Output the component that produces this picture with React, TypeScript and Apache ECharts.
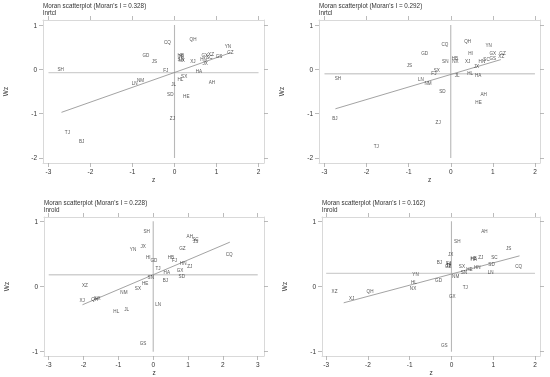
import React, { useEffect, useRef } from "react";
import * as echarts from "echarts";

// Panel 1: lnrtcl (Moran's I = 0.328)
const p1Names = ["SH","TJ","BJ","CQ","QH","GD","JS","FJ","HB","HI","SN","NX","XJ","GX","XZ","HN","SC","GS","GZ","YN","JX","HA","SX","HL","JL","AH","SD","HE","ZJ","NM","LN"];
const p1Z =  [-2.71,-2.55,-2.21,-0.17,0.44,-0.68,-0.48,-0.21,0.15,0.16,0.15,0.17,0.44,0.72,0.87,0.69,0.83,1.06,1.33,1.27,0.73,0.58,0.23,0.14,-0.02,0.89,-0.10,0.28,-0.05,-0.81,-0.95];
const p1Wz = [-0.01,-1.42,-1.62,0.61,0.68,0.32,0.17,-0.02,0.31,0.29,0.22,0.21,0.17,0.32,0.34,0.23,0.26,0.29,0.37,0.51,0.14,-0.05,-0.17,-0.23,-0.35,-0.29,-0.57,-0.61,-1.10,-0.26,-0.32];
const p1Fit = [[-2.69,-0.97],[1.32,0.37]];
const p1Mean = -0.075;

// Panel 2: lnrtcl (Moran's I = 0.292)
const p2Names = ["SH","BJ","TJ","JS","GD","CQ","QH","YN","HI","GX","GZ","HB","SN","NX","XJ","GS","SC","HN","XZ","JX","SX","FJ","JL","HL","HA","LN","NM","SD","AH","HE","ZJ"];
const p2Z =  [-2.68,-2.75,-1.77,-0.98,-0.62,-0.14,0.40,0.90,0.47,1.00,1.23,0.10,-0.13,0.11,0.40,1.00,0.85,0.74,1.20,0.61,-0.33,-0.40,0.15,0.46,0.65,-0.71,-0.54,-0.20,0.78,0.66,-0.30];
const p2Wz = [-0.21,-1.10,-1.75,0.09,0.35,0.56,0.63,0.53,0.36,0.35,0.36,0.25,0.18,0.17,0.17,0.25,0.23,0.17,0.29,0.07,-0.02,-0.09,-0.14,-0.10,-0.14,-0.23,-0.32,-0.50,-0.56,-0.75,-1.20];
const p2Fit = [[-2.74,-0.89],[1.19,0.22]];
const p2Mean = -0.10;

// Panel 3: lnrold (Moran's I = 0.228)
const p3Names = ["SH","AH","SC","JS","JX","YN","GZ","CQ","HI","GD","HB","FJ","HN","ZJ","TJ","HA","GX","SD","SN","BJ","HE","SX","NM","XZ","XJ","QH","NX","LN","HL","JL","GS"];
const p3Z =  [-0.19,1.05,1.21,1.22,-0.29,-0.58,0.84,2.18,-0.14,0.02,0.51,0.61,0.86,1.05,0.14,0.39,0.77,0.82,-0.07,0.35,-0.23,-0.44,-0.84,-1.96,-2.04,-1.68,-1.60,0.14,-1.06,-0.76,-0.29];
const p3Wz = [0.85,0.76,0.72,0.69,0.61,0.56,0.58,0.49,0.45,0.40,0.44,0.40,0.35,0.30,0.28,0.22,0.25,0.15,0.14,0.09,0.04,-0.03,-0.09,0.01,-0.21,-0.20,-0.19,-0.27,-0.38,-0.36,-0.88];
const p3Fit = [[-2.03,-0.28],[2.20,0.68]];
const p3Mean = 0.18;

// Panel 4: lnrold (Moran's I = 0.162)
const p4Names = ["AH","SH","JS","JX","BJ","FJ","JL","GZ","SC","ZJ","HB","HA","SD","CQ","SX","HN","HE","SN","LN","NM","YN","GD","HL","NX","TJ","GX","QH","XZ","XJ","GS","HI"];
const p4Z =  [0.79,0.14,1.37,-0.02,-0.29,-0.07,-0.07,-0.08,1.03,0.70,0.53,0.53,0.96,1.61,0.25,0.62,0.43,0.30,0.94,0.10,-0.86,-0.31,-0.90,-0.92,0.33,0.02,-1.95,-2.80,-2.39,-0.17,-0.06];
const p4Wz = [0.85,0.69,0.58,0.49,0.37,0.36,0.32,0.31,0.45,0.44,0.43,0.41,0.34,0.30,0.31,0.29,0.26,0.22,0.22,0.16,0.18,0.09,0.06,-0.03,-0.01,-0.15,-0.08,-0.08,-0.19,-0.91,0.33];
const p4Fit = [[-2.58,-0.25],[1.63,0.47]];
const p4Mean = 0.20;

const titles = ["Moran scatterplot (Moran's I = 0.328)","Moran scatterplot (Moran's I = 0.292)","Moran scatterplot (Moran's I = 0.228)","Moran scatterplot (Moran's I = 0.162)"];
const subtitles = ["lnrtcl","lnrtcl","lnrold","lnrold"];
const xTicks = [[-3,-2,-1,0,1,2],[-3,-2,-1,0,1,2],[-3,-2,-1,0,1,2,3],[-3,-2,-1,0,1,2]];
const yTicks = [[-2,-1,0,1],[-2,-1,0,1],[-1,0,1],[-1,0,1]];

const FONT = "Liberation Sans";

export default function App() {
  const ref = useRef<HTMLDivElement>(null);
  useEffect(() => {
    if (!ref.current) return;
    const chart = echarts.init(ref.current, null, { renderer: "svg" });
    const panels = [
      { names: p1Names, z: p1Z, wz: p1Wz, fit: p1Fit, mean: p1Mean, hx: [-3, 2], vy: [-2, 1] },
      { names: p2Names, z: p2Z, wz: p2Wz, fit: p2Fit, mean: p2Mean, hx: [-3, 2], vy: [-2, 1] },
      { names: p3Names, z: p3Z, wz: p3Wz, fit: p3Fit, mean: p3Mean, hx: [-3, 3], vy: [-1, 1] },
      { names: p4Names, z: p4Z, wz: p4Wz, fit: p4Fit, mean: p4Mean, hx: [-3, 2], vy: [-1, 1] },
    ];
    const grids = [
      { left: 43, top: 20, width: 221, height: 143, xr: [-3.13, 2.13], yr: [-2.113, 1.113] },
      { left: 319, top: 20, width: 221, height: 143, xr: [-3.13, 2.12], yr: [-2.113, 1.113] },
      { left: 44, top: 217, width: 220, height: 140, xr: [-3.135, 3.18], yr: [-1.066, 1.066] },
      { left: 322, top: 217, width: 218, height: 140, xr: [-3.10, 2.12], yr: [-1.066, 1.066] },
    ];
    const xAxes: any[] = [];
    const yAxes: any[] = [];
    const series: any[] = [];
    const graphics: any[] = [];
    grids.forEach((g, i) => {
      const line = { show: true, onZero: false, lineStyle: { color: "#d9d9d9", width: 1 } };
      const tick = (vals: number[]) => ({ show: true, inside: false, length: 4, customValues: vals, lineStyle: { color: "#aaa", width: 0.8 } });
      xAxes.push({
        type: "value", gridIndex: i, position: "bottom", min: g.xr[0], max: g.xr[1],
        axisLine: line, axisTick: tick(xTicks[i]), splitLine: { show: false },
        axisLabel: { customValues: xTicks[i], fontSize: 6.5, color: "#333", fontFamily: FONT, margin: 5 },
        name: "z", nameLocation: "middle", nameGap: 13, nameTextStyle: { fontSize: 6.5, color: "#333", fontFamily: FONT },
      });
      xAxes.push({
        type: "value", gridIndex: i, position: "top", min: g.xr[0], max: g.xr[1],
        axisLine: line, axisTick: tick(xTicks[i]), splitLine: { show: false }, axisLabel: { show: false },
      });
      yAxes.push({
        type: "value", gridIndex: i, position: "left", min: g.yr[0], max: g.yr[1],
        axisLine: line, axisTick: tick(yTicks[i]), splitLine: { show: false },
        axisLabel: { customValues: yTicks[i], fontSize: 6.5, color: "#333", fontFamily: FONT, margin: 6 },
        name: "Wz", nameLocation: "middle", nameGap: 34, nameRotate: 90, nameTextStyle: { fontSize: 6.5, color: "#333", fontFamily: FONT },
      });
      yAxes.push({
        type: "value", gridIndex: i, position: "right", min: g.yr[0], max: g.yr[1],
        axisLine: line, axisTick: tick(yTicks[i]), splitLine: { show: false }, axisLabel: { show: false },
      });
      const p = panels[i];
      series.push({
        type: "line", xAxisIndex: 2 * i, yAxisIndex: 2 * i, symbol: "none", silent: true, z: 1,
        data: [[p.hx[0], p.mean], [p.hx[1], p.mean]], lineStyle: { color: "#d0d0d0", width: 1.3 },
      });
      series.push({
        type: "line", xAxisIndex: 2 * i, yAxisIndex: 2 * i, symbol: "none", silent: true, z: 1,
        data: [[0, p.vy[0]], [0, p.vy[1]]], lineStyle: { color: "#b8b8b8", width: 1.1 },
      });
      series.push({
        type: "line", xAxisIndex: 2 * i, yAxisIndex: 2 * i, symbol: "none", silent: true, z: 1,
        data: p.fit, lineStyle: { color: "#8c8c8c", width: 0.8 },
      });
      series.push({
        type: "scatter", xAxisIndex: 2 * i, yAxisIndex: 2 * i, symbolSize: 1, z: 5,
        itemStyle: { color: "rgba(255,255,255,0)" },
        data: p.names.map((n, k) => ({ name: n, value: [p.z[k], p.wz[k]] })),
        label: {
          show: true, position: "inside", formatter: "{b}", fontSize: 4.6, color: "#2a2a2a", fontFamily: FONT,
          textBorderWidth: 0, textBorderColor: "transparent",
        },
        labelLayout: { hideOverlap: false },
      });
      const tTop = i < 2 ? 6.3 : 203;
      graphics.push({ type: "text", left: g.left, top: tTop - 4, style: { text: titles[i], fontSize: 6.3, fill: "#333", fontFamily: FONT } });
      graphics.push({ type: "text", left: g.left, top: tTop + 3, style: { text: subtitles[i], fontSize: 6.3, fill: "#333", fontFamily: FONT } });
    });
    chart.setOption({
      animation: false,
      backgroundColor: "#fff",
      grid: grids.map((g) => ({ left: g.left, top: g.top, width: g.width, height: g.height, containLabel: false })),
      xAxis: xAxes,
      yAxis: yAxes,
      series,
      graphic: graphics,
    });
    return () => chart.dispose();
  }, []);
  return (
    <div
      ref={ref}
      style={{ width: 550, height: 377, position: "absolute", left: 0, top: 0, willChange: "transform", transform: "translateZ(0)" }}
    />
  );
}
